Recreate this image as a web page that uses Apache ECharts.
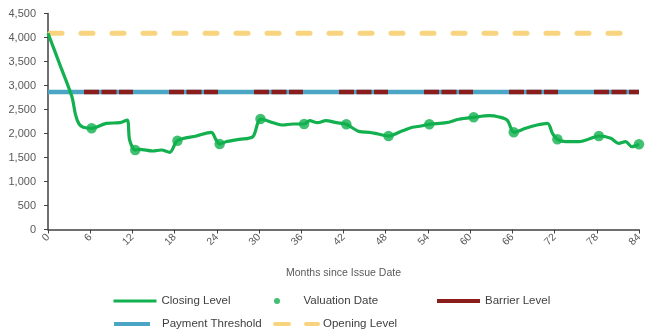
<!DOCTYPE html>
<html>
<head>
<meta charset="utf-8">
<script src="https://cdn.jsdelivr.net/npm/echarts@6/dist/echarts.min.js"></script>
<style>
  html, body { margin: 0; padding: 0; background: #fff; }
  #chart { width: 645px; height: 335px; }
</style>
</head>
<body>
<div id="chart"></div>
<script>
// Index closing level, months since issue date
const closingMonths = [0, 1.7, 3.4, 3.9, 4.4, 5.0, 6.2, 8.3, 10.2, 11.25, 11.6, 12.4, 13.0, 14.9, 16.1, 17.3, 18.4,
  21.1, 23.2, 23.9, 24.4, 25.3, 27.2, 29.1, 29.8, 30.2, 32.0, 33.4, 34.8, 36.4, 37.2, 38.3, 39.5,
  41.0, 42.4, 44.3, 45.7, 46.9, 48.4, 50.4, 51.8, 53.0, 54.2, 56.6, 58.4, 60.5, 62.7, 64.1, 65.3,
  66.2, 67.9, 69.5, 71.0, 71.7, 72.4, 73.6, 75.5, 76.9, 78.3, 80.0, 81.1, 82.1, 83.0, 84];
const closingValues = [4088, 3430, 2767, 2400, 2200, 2130, 2108, 2212, 2225, 2281, 1865, 1656, 1670, 1635, 1656, 1608, 1850,
  1948, 2025, 1865, 1781, 1829, 1879, 1933, 2212, 2302, 2225, 2177, 2198, 2198, 2267, 2225, 2267,
  2225, 2191, 2038, 2025, 1990, 1948, 2058, 2129, 2156, 2191, 2225, 2296, 2337, 2371, 2345, 2275,
  2025, 2108, 2177, 2212, 2004, 1879, 1829, 1829, 1885, 1948, 1900, 1796, 1829, 1725, 1775];

// Valuation dates and the closing level observed on each
const valuationMonths = [6.2, 12.4, 18.4, 24.4, 30.2, 36.4, 42.4, 48.4, 54.2, 60.5, 66.2, 72.4, 78.3, 84];
const valuationValues = [2108, 1656, 1850, 1781, 2302, 2198, 2191, 1948, 2191, 2337, 2025, 1879, 1948, 1775];

// Reference levels
const openingLevel = 4088;
const barrierLevel = 2862;
const paymentThreshold = 2862;
const termMonths = [0, 84];

const seriesNames = ['Closing Level', 'Valuation Date', 'Barrier Level', 'Payment Threshold', 'Opening Level'];

const GREEN = '#12b04f';
const RED = '#8b1d1d';
const BLUE = '#4ba6c6';
const YELLOW = '#f8d47e';
const FONT = 'Liberation Sans, Arial, sans-serif';

const pairs = (xs, ys) => xs.map((x, i) => [x, ys[i]]);
const flat = (v) => termMonths.map(m => [m, v]);

const chart = echarts.init(document.getElementById('chart'), null, { renderer: 'canvas' });

const legendText = { fontFamily: FONT, fontSize: 11.5, color: '#404040' };
const noDot = { color: 'transparent', borderWidth: 0, opacity: 0 };
function legendAt(item, left, top, extra) {
  return Object.assign({
    data: [item], left: left, top: top, itemWidth: 43, itemHeight: 8, itemGap: 0,
    selectedMode: false, textStyle: legendText, padding: 0
  }, extra || {});
}

chart.setOption({
  animation: false,
  backgroundColor: '#ffffff',
  grid: { left: 48, right: 4, top: 13.5, bottom: 105.5, containLabel: false },
  legend: [
    legendAt({ name: seriesNames[0], itemStyle: noDot, lineStyle: { width: 3, color: GREEN } }, 112, 295),
    legendAt({ name: seriesNames[1], icon: 'circle' }, 274, 295, { itemHeight: 6 }),
    legendAt({ name: seriesNames[2], itemStyle: noDot, lineStyle: { width: 4, color: RED, type: 'solid' } }, 435, 295),
    legendAt({ name: seriesNames[3], itemStyle: noDot, lineStyle: { width: 4, color: BLUE } }, 112, 318,
      { itemWidth: 36, textStyle: Object.assign({}, legendText, { padding: [0, 0, 0, 7] }) }),
    legendAt({ name: seriesNames[4], itemStyle: noDot, lineStyle: { width: 4, color: YELLOW, type: [14, 17], cap: 'round' } }, 271, 318,
      { itemWidth: 45 })
  ],
  xAxis: {
    type: 'value', min: 0, max: 84, interval: 6,
    name: 'Months since Issue Date', nameLocation: 'middle', nameGap: 38,
    nameTextStyle: { fontFamily: FONT, fontSize: 10.5, color: '#595959' },
    axisLine: { lineStyle: { color: '#404040', width: 1.5 } },
    axisTick: { show: true, length: 4, lineStyle: { color: '#404040' } },
    axisLabel: { rotate: 45, margin: 6, fontFamily: FONT, fontSize: 10.5, color: '#595959' },
    splitLine: { show: false }
  },
  yAxis: {
    type: 'value', min: 0, max: 4500, interval: 500,
    axisLine: { show: true, lineStyle: { color: '#404040', width: 1.5 } },
    axisTick: { show: true, length: 4, lineStyle: { color: '#404040' } },
    axisLabel: {
      margin: 12, fontFamily: FONT, fontSize: 11, color: '#595959',
      formatter: v => v.toLocaleString('en-US')
    },
    splitLine: { show: false }
  },
  series: [
    {
      name: seriesNames[4], type: 'line', symbol: 'none', silent: true, z: 1,
      data: flat(openingLevel),
      itemStyle: { color: YELLOW },
      lineStyle: { color: YELLOW, width: 5, type: [12, 19], cap: 'round', dashOffset: -2 }
    },
    {
      name: seriesNames[3], type: 'line', symbol: 'none', silent: true, z: 2,
      data: flat(paymentThreshold),
      itemStyle: { color: BLUE },
      lineStyle: { color: BLUE, width: 4.5 }
    },
    {
      name: seriesNames[2], type: 'line', symbol: 'none', silent: true, z: 3,
      data: flat(barrierLevel),
      itemStyle: { color: RED },
      lineStyle: { color: RED, width: 4.5, type: [15, 2.5, 15, 2.5, 14, 36], dashOffset: 49 }
    },
    {
      name: seriesNames[0], type: 'line', symbol: 'none', z: 4,
      smooth: 0.3,
      data: pairs(closingMonths, closingValues),
      itemStyle: { color: GREEN },
      lineStyle: { color: GREEN, width: 3.2 }
    },
    {
      name: seriesNames[1], type: 'scatter', symbol: 'circle', symbolSize: 10.5, z: 5,
      data: pairs(valuationMonths, valuationValues),
      itemStyle: { color: GREEN }
    }
  ]
});
</script>
</body>
</html>
